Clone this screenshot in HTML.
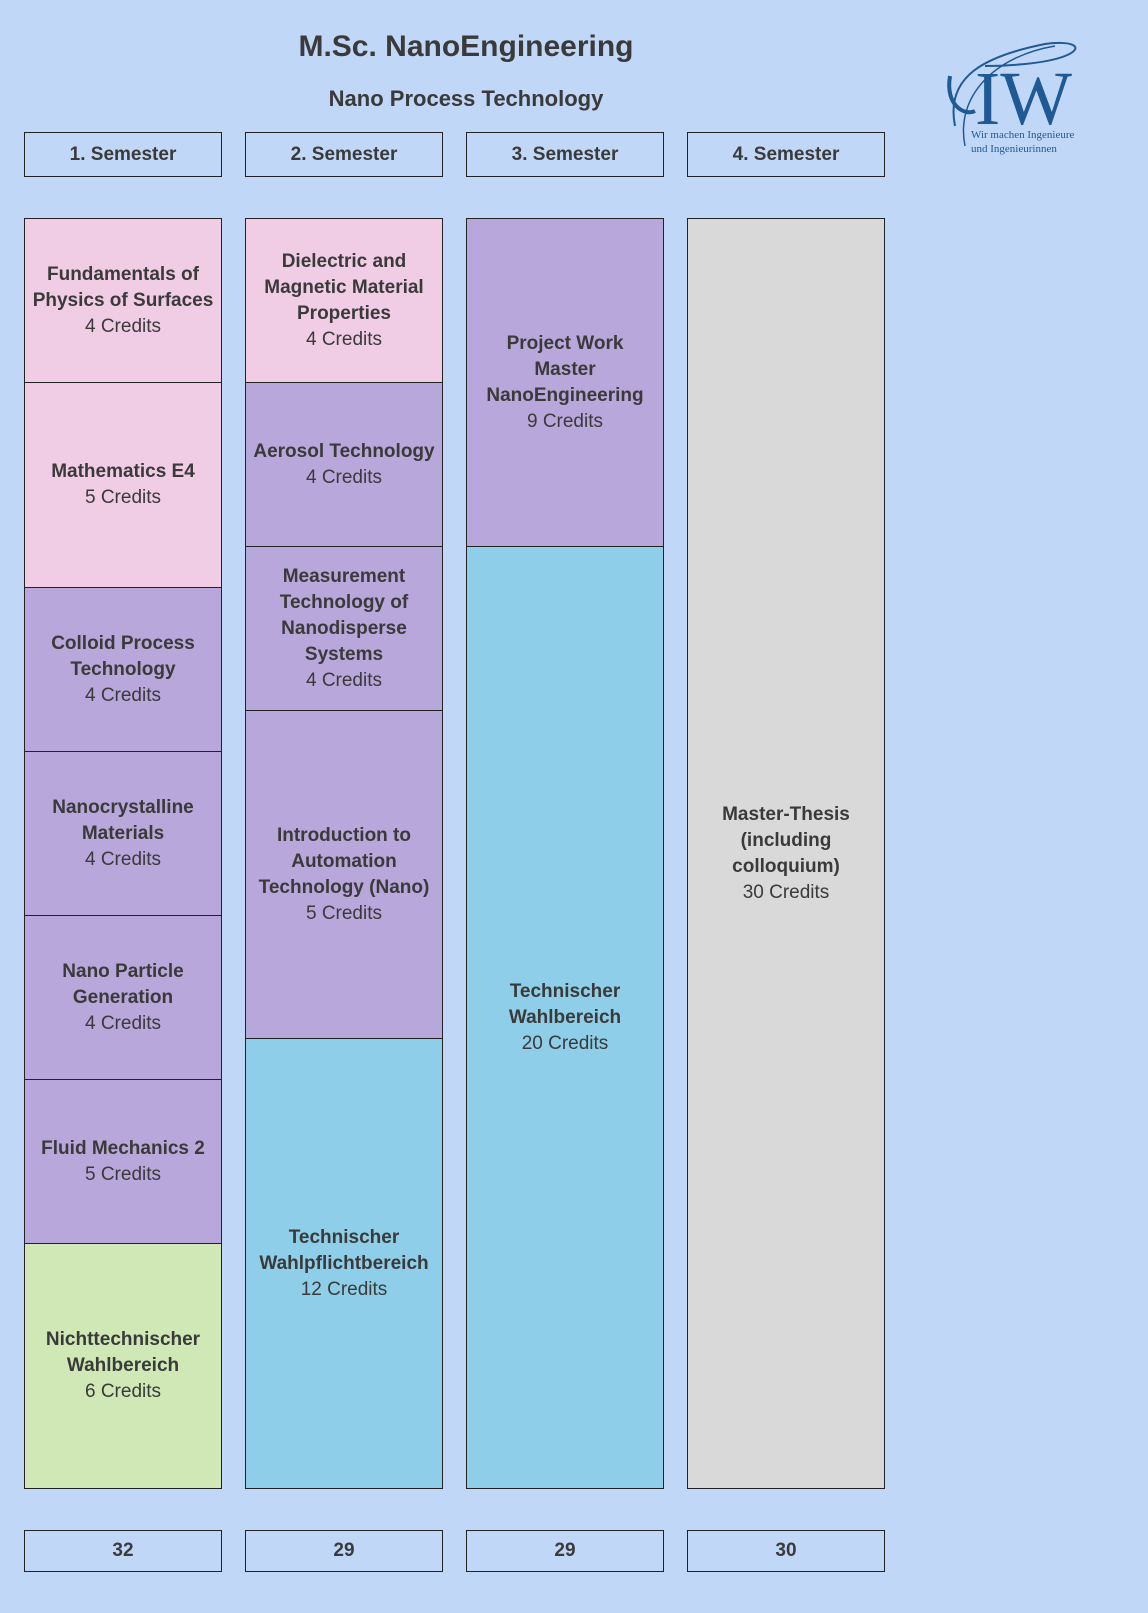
<!DOCTYPE html>
<html><head><meta charset="utf-8"><style>
body{margin:0;width:1148px;height:1613px;background:#c1d7f7;font-family:"Liberation Sans",Arial,sans-serif;color:#3a3a3a;position:relative;overflow:hidden}
.b{position:absolute;box-sizing:border-box;border:1px solid #222;display:flex;align-items:center;justify-content:center;text-align:center;font-size:19px;line-height:26px}
.b b{display:block}
.p{background:#f0cde4}.u{background:#b8a7da}.c{background:#8ecee8}.g{background:#cfe8b5}.y{background:#d9d9d9}
.h{background:#c1d7f7;font-weight:bold;font-size:19px}
.t{position:absolute;font-weight:bold;text-align:center;width:932px;left:0}
</style></head><body>
<div class="t" style="top:30px;font-size:30px">M.Sc. NanoEngineering</div>
<div class="t" style="top:86px;font-size:22px">Nano Process Technology</div>
<svg style="position:absolute;left:945px;top:36px" width="140" height="125">
<path d="M10 90 C0 40 40 20 100 8 C130 4 140 12 120 20 C100 28 60 30 40 30" fill="none" stroke="#1f5a94" stroke-width="2"/>
<path d="M20 110 C10 60 50 20 110 10" fill="none" stroke="#1f5a94" stroke-width="1.5"/>
<path d="M5 40 C0 70 20 80 30 75" fill="none" stroke="#1f5a94" stroke-width="4"/>
<text x="30" y="88" font-family="Liberation Serif,serif" font-size="76" fill="#1f5a94">IW</text>
<text x="26" y="102" font-family="Liberation Serif,serif" font-size="11" fill="#1f5a94">Wir machen Ingenieure</text>
<text x="26" y="116" font-family="Liberation Serif,serif" font-size="11" fill="#1f5a94">und Ingenieurinnen</text>
</svg>
<div class="b h" style="left:24px;top:132px;width:198px;height:45px">1. Semester</div>
<div class="b h" style="left:245px;top:132px;width:198px;height:45px">2. Semester</div>
<div class="b h" style="left:466px;top:132px;width:198px;height:45px">3. Semester</div>
<div class="b h" style="left:687px;top:132px;width:198px;height:45px">4. Semester</div>

<div class="b p" style="left:24px;top:218px;width:198px;height:165px"><div><b>Fundamentals of<br>Physics of Surfaces</b>4 Credits</div></div>
<div class="b p" style="left:24px;top:382px;width:198px;height:206px"><div><b>Mathematics E4</b>5 Credits</div></div>
<div class="b u" style="left:24px;top:587px;width:198px;height:165px"><div><b>Colloid Process<br>Technology</b>4 Credits</div></div>
<div class="b u" style="left:24px;top:751px;width:198px;height:165px"><div><b>Nanocrystalline<br>Materials</b>4 Credits</div></div>
<div class="b u" style="left:24px;top:915px;width:198px;height:165px"><div><b>Nano Particle<br>Generation</b>4 Credits</div></div>
<div class="b u" style="left:24px;top:1079px;width:198px;height:165px"><div><b>Fluid Mechanics 2</b>5 Credits</div></div>
<div class="b g" style="left:24px;top:1243px;width:198px;height:246px"><div><b>Nichttechnischer<br>Wahlbereich</b>6 Credits</div></div>

<div class="b p" style="left:245px;top:218px;width:198px;height:165px"><div><b>Dielectric and<br>Magnetic Material<br>Properties</b>4 Credits</div></div>
<div class="b u" style="left:245px;top:382px;width:198px;height:165px"><div><b>Aerosol Technology</b>4 Credits</div></div>
<div class="b u" style="left:245px;top:546px;width:198px;height:165px"><div><b>Measurement<br>Technology of<br>Nanodisperse<br>Systems</b>4 Credits</div></div>
<div class="b u" style="left:245px;top:710px;width:198px;height:329px"><div><b>Introduction to<br>Automation<br>Technology (Nano)</b>5 Credits</div></div>
<div class="b c" style="left:245px;top:1038px;width:198px;height:451px"><div><b>Technischer<br>Wahlpflichtbereich</b>12 Credits</div></div>

<div class="b u" style="left:466px;top:218px;width:198px;height:329px"><div><b>Project Work<br>Master<br>NanoEngineering</b>9 Credits</div></div>
<div class="b c" style="left:466px;top:546px;width:198px;height:943px"><div><b>Technischer<br>Wahlbereich</b>20 Credits</div></div>

<div class="b y" style="left:687px;top:218px;width:198px;height:1271px"><div><b>Master-Thesis<br>(including<br>colloquium)</b>30 Credits</div></div>

<div class="b h" style="left:24px;top:1530px;width:198px;height:42px">32</div>
<div class="b h" style="left:245px;top:1530px;width:198px;height:42px">29</div>
<div class="b h" style="left:466px;top:1530px;width:198px;height:42px">29</div>
<div class="b h" style="left:687px;top:1530px;width:198px;height:42px">30</div>
</body></html>
